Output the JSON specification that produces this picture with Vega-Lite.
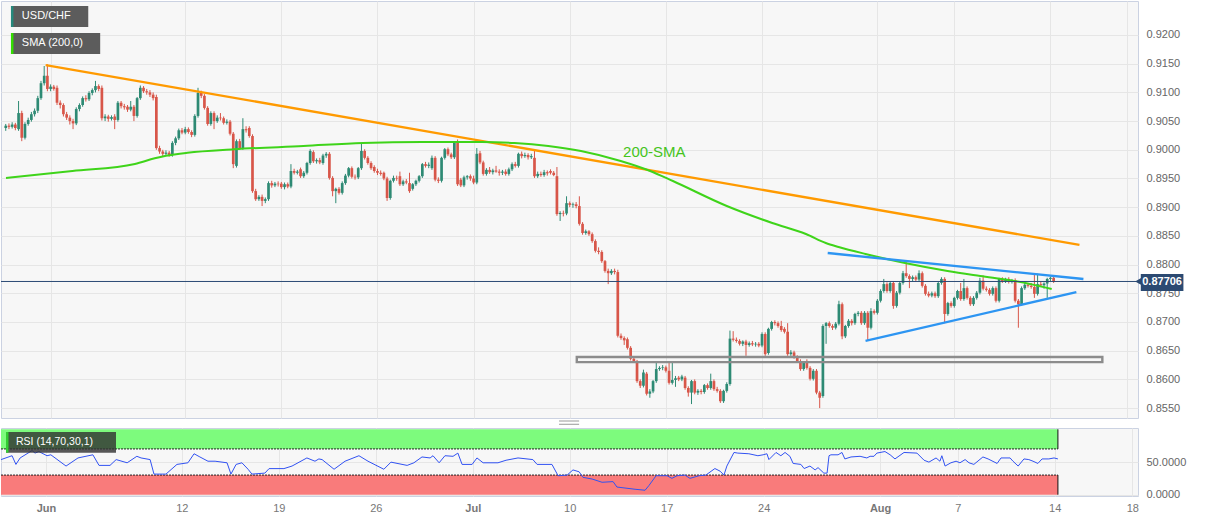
{
"$schema": "https://vega.github.io/schema/vega-lite/v6.json",
"padding": 0,
"background": "#ffffff",
"spacing": 10,
"bounds": "flush",
"config": {"view": {"stroke": "#cbd2e2", "fill": "#f7f7f7"}, "font": "Liberation Sans", "axis": {"gridColor": "#e6e6e6", "labelColor": "#666666", "labelFontSize": 11}},
"datasets": {
"candles": [
{"k":-14,"o":0.9038,"h":0.9045,"l":0.9033,"c":0.9042},
{"k":-13,"o":0.9042,"h":0.9046,"l":0.9036,"c":0.9040},
{"k":-12,"o":0.9040,"h":0.9048,"l":0.9037,"c":0.9044},
{"k":-11,"o":0.9044,"h":0.9047,"l":0.9034,"c":0.9038},
{"k":-10,"o":0.9036,"h":0.9085,"l":0.9033,"c":0.9064},
{"k":-9,"o":0.9064,"h":0.9068,"l":0.9015,"c":0.9021},
{"k":-8,"o":0.9021,"h":0.9048,"l":0.9018,"c":0.9045},
{"k":-7,"o":0.9045,"h":0.9056,"l":0.9042,"c":0.9052},
{"k":-6,"o":0.9052,"h":0.9066,"l":0.9049,"c":0.9062},
{"k":-5,"o":0.9062,"h":0.9072,"l":0.9058,"c":0.9068},
{"k":-4,"o":0.9068,"h":0.9094,"l":0.9064,"c":0.9090},
{"k":-3,"o":0.9090,"h":0.9120,"l":0.9087,"c":0.9116},
{"k":-2,"o":0.9116,"h":0.9146,"l":0.9112,"c":0.9129},
{"k":-1,"o":0.9129,"h":0.9149,"l":0.9102,"c":0.9106},
{"k":0,"o":0.9106,"h":0.9114,"l":0.9102,"c":0.9110},
{"k":1,"o":0.9110,"h":0.9113,"l":0.9103,"c":0.9106},
{"k":2,"o":0.9108,"h":0.9112,"l":0.9078,"c":0.9082},
{"k":3,"o":0.9082,"h":0.9086,"l":0.9072,"c":0.9078},
{"k":4,"o":0.9078,"h":0.9081,"l":0.9058,"c":0.9062},
{"k":5,"o":0.9062,"h":0.9066,"l":0.9052,"c":0.9056},
{"k":6,"o":0.9056,"h":0.9060,"l":0.9044,"c":0.9050},
{"k":7,"o":0.9050,"h":0.9054,"l":0.9036,"c":0.9046},
{"k":8,"o":0.9046,"h":0.9074,"l":0.9043,"c":0.9071},
{"k":9,"o":0.9071,"h":0.9081,"l":0.9067,"c":0.9078},
{"k":10,"o":0.9078,"h":0.9093,"l":0.9075,"c":0.9090},
{"k":11,"o":0.9090,"h":0.9095,"l":0.9084,"c":0.9088},
{"k":12,"o":0.9088,"h":0.9102,"l":0.9085,"c":0.9099},
{"k":13,"o":0.9099,"h":0.9107,"l":0.9095,"c":0.9104},
{"k":14,"o":0.9104,"h":0.9120,"l":0.9100,"c":0.9111},
{"k":15,"o":0.9111,"h":0.9114,"l":0.9102,"c":0.9106},
{"k":16,"o":0.9108,"h":0.9112,"l":0.9051,"c":0.9055},
{"k":17,"o":0.9055,"h":0.9062,"l":0.9050,"c":0.9058},
{"k":18,"o":0.9058,"h":0.9061,"l":0.9049,"c":0.9054},
{"k":19,"o":0.9054,"h":0.9060,"l":0.9051,"c":0.9057},
{"k":20,"o":0.9058,"h":0.9062,"l":0.9036,"c":0.9052},
{"k":21,"o":0.9052,"h":0.9085,"l":0.9049,"c":0.9082},
{"k":22,"o":0.9082,"h":0.9085,"l":0.9072,"c":0.9076},
{"k":23,"o":0.9076,"h":0.9080,"l":0.9070,"c":0.9074},
{"k":24,"o":0.9075,"h":0.9078,"l":0.9066,"c":0.9070},
{"k":25,"o":0.9070,"h":0.9085,"l":0.9067,"c":0.9075},
{"k":26,"o":0.9075,"h":0.9078,"l":0.9050,"c":0.9059},
{"k":27,"o":0.9059,"h":0.9092,"l":0.9056,"c":0.9090},
{"k":28,"o":0.9090,"h":0.9112,"l":0.9087,"c":0.9108},
{"k":29,"o":0.9108,"h":0.9111,"l":0.9099,"c":0.9102},
{"k":30,"o":0.9102,"h":0.9106,"l":0.9096,"c":0.9100},
{"k":31,"o":0.9100,"h":0.9104,"l":0.9092,"c":0.9096},
{"k":32,"o":0.9096,"h":0.9100,"l":0.9086,"c":0.9090},
{"k":33,"o":0.9092,"h":0.9096,"l":0.9000,"c":0.9003},
{"k":34,"o":0.9003,"h":0.9007,"l":0.8993,"c":0.8997},
{"k":35,"o":0.8997,"h":0.9000,"l":0.8989,"c":0.8993},
{"k":36,"o":0.8993,"h":0.8999,"l":0.8990,"c":0.8995},
{"k":37,"o":0.8995,"h":0.8998,"l":0.8988,"c":0.8991},
{"k":38,"o":0.8991,"h":0.9015,"l":0.8988,"c":0.9012},
{"k":39,"o":0.9012,"h":0.9023,"l":0.9008,"c":0.9020},
{"k":40,"o":0.9020,"h":0.9037,"l":0.9017,"c":0.9034},
{"k":41,"o":0.9034,"h":0.9038,"l":0.9027,"c":0.9030},
{"k":42,"o":0.9030,"h":0.9040,"l":0.9027,"c":0.9036},
{"k":43,"o":0.9036,"h":0.9039,"l":0.9028,"c":0.9031},
{"k":44,"o":0.9031,"h":0.9034,"l":0.9022,"c":0.9026},
{"k":45,"o":0.9026,"h":0.9062,"l":0.9023,"c":0.9059},
{"k":46,"o":0.9059,"h":0.9108,"l":0.9056,"c":0.9099},
{"k":47,"o":0.9099,"h":0.9103,"l":0.9090,"c":0.9094},
{"k":48,"o":0.9094,"h":0.9097,"l":0.9070,"c":0.9073},
{"k":49,"o":0.9073,"h":0.9076,"l":0.9042,"c":0.9045},
{"k":50,"o":0.9045,"h":0.9067,"l":0.9042,"c":0.9064},
{"k":51,"o":0.9064,"h":0.9067,"l":0.9036,"c":0.9050},
{"k":52,"o":0.9050,"h":0.9060,"l":0.9047,"c":0.9056},
{"k":53,"o":0.9056,"h":0.9064,"l":0.9051,"c":0.9055},
{"k":54,"o":0.9055,"h":0.9058,"l":0.9044,"c":0.9047},
{"k":55,"o":0.9047,"h":0.9053,"l":0.9044,"c":0.9049},
{"k":56,"o":0.9049,"h":0.9052,"l":0.9025,"c":0.9028},
{"k":57,"o":0.9028,"h":0.9031,"l":0.8968,"c":0.8975},
{"k":58,"o":0.8972,"h":0.9018,"l":0.8969,"c":0.9015},
{"k":59,"o":0.9015,"h":0.9019,"l":0.9000,"c":0.9003},
{"k":60,"o":0.9003,"h":0.9055,"l":0.9000,"c":0.9036},
{"k":61,"o":0.9036,"h":0.9041,"l":0.9030,"c":0.9034},
{"k":62,"o":0.9038,"h":0.9041,"l":0.9021,"c":0.9024},
{"k":63,"o":0.9024,"h":0.9027,"l":0.8925,"c":0.8928},
{"k":64,"o":0.8928,"h":0.8932,"l":0.8911,"c":0.8914},
{"k":65,"o":0.8914,"h":0.8921,"l":0.8911,"c":0.8918},
{"k":66,"o":0.8918,"h":0.8922,"l":0.8902,"c":0.8911},
{"k":67,"o":0.8911,"h":0.8917,"l":0.8907,"c":0.8914},
{"k":68,"o":0.8914,"h":0.8945,"l":0.8911,"c":0.8942},
{"k":69,"o":0.8942,"h":0.8946,"l":0.8934,"c":0.8938},
{"k":70,"o":0.8938,"h":0.8944,"l":0.8935,"c":0.8941},
{"k":71,"o":0.8941,"h":0.8945,"l":0.8936,"c":0.8940},
{"k":72,"o":0.8941,"h":0.8944,"l":0.8932,"c":0.8935},
{"k":73,"o":0.8935,"h":0.8943,"l":0.8931,"c":0.8940},
{"k":74,"o":0.8940,"h":0.8943,"l":0.8933,"c":0.8936},
{"k":75,"o":0.8936,"h":0.8975,"l":0.8933,"c":0.8963},
{"k":76,"o":0.8963,"h":0.8967,"l":0.8957,"c":0.8960},
{"k":77,"o":0.8960,"h":0.8965,"l":0.8957,"c":0.8962},
{"k":78,"o":0.8966,"h":0.8969,"l":0.8951,"c":0.8954},
{"k":79,"o":0.8954,"h":0.8963,"l":0.8951,"c":0.8960},
{"k":80,"o":0.8960,"h":0.8979,"l":0.8957,"c":0.8977},
{"k":81,"o":0.8977,"h":0.9001,"l":0.8974,"c":0.8998},
{"k":82,"o":0.8996,"h":0.8999,"l":0.8977,"c":0.8980},
{"k":83,"o":0.8980,"h":0.8985,"l":0.8976,"c":0.8982},
{"k":84,"o":0.8982,"h":0.8986,"l":0.8975,"c":0.8978},
{"k":85,"o":0.8977,"h":0.8993,"l":0.8974,"c":0.8990},
{"k":86,"o":0.8990,"h":0.8996,"l":0.8986,"c":0.8993},
{"k":87,"o":0.8993,"h":0.8996,"l":0.8948,"c":0.8951},
{"k":88,"o":0.8951,"h":0.8954,"l":0.8919,"c":0.8928},
{"k":89,"o":0.8928,"h":0.8934,"l":0.8907,"c":0.8932},
{"k":90,"o":0.8932,"h":0.8935,"l":0.8922,"c":0.8925},
{"k":91,"o":0.8925,"h":0.8945,"l":0.8922,"c":0.8942},
{"k":92,"o":0.8942,"h":0.8958,"l":0.8939,"c":0.8955},
{"k":93,"o":0.8955,"h":0.8970,"l":0.8952,"c":0.8968},
{"k":94,"o":0.8968,"h":0.8971,"l":0.8950,"c":0.8953},
{"k":95,"o":0.8953,"h":0.8957,"l":0.8948,"c":0.8952},
{"k":96,"o":0.8952,"h":0.8970,"l":0.8949,"c":0.8968},
{"k":97,"o":0.8968,"h":0.9012,"l":0.8965,"c":0.8998},
{"k":98,"o":0.8998,"h":0.9001,"l":0.8983,"c":0.8986},
{"k":99,"o":0.8986,"h":0.8989,"l":0.8974,"c":0.8977},
{"k":100,"o":0.8977,"h":0.8980,"l":0.8965,"c":0.8968},
{"k":101,"o":0.8970,"h":0.8973,"l":0.8960,"c":0.8963},
{"k":102,"o":0.8963,"h":0.8967,"l":0.8956,"c":0.8960},
{"k":103,"o":0.8960,"h":0.8964,"l":0.8955,"c":0.8958},
{"k":104,"o":0.8960,"h":0.8962,"l":0.8947,"c":0.8950},
{"k":105,"o":0.8950,"h":0.8953,"l":0.8911,"c":0.8916},
{"k":106,"o":0.8916,"h":0.8948,"l":0.8913,"c":0.8946},
{"k":107,"o":0.8946,"h":0.8955,"l":0.8943,"c":0.8951},
{"k":108,"o":0.8951,"h":0.8955,"l":0.8946,"c":0.8950},
{"k":109,"o":0.8954,"h":0.8962,"l":0.8937,"c":0.8940},
{"k":110,"o":0.8940,"h":0.8948,"l":0.8937,"c":0.8945},
{"k":111,"o":0.8945,"h":0.8949,"l":0.8940,"c":0.8943},
{"k":112,"o":0.8942,"h":0.8960,"l":0.8925,"c":0.8928},
{"k":113,"o":0.8932,"h":0.8942,"l":0.8929,"c":0.8940},
{"k":114,"o":0.8940,"h":0.8948,"l":0.8937,"c":0.8946},
{"k":115,"o":0.8946,"h":0.8956,"l":0.8943,"c":0.8954},
{"k":116,"o":0.8954,"h":0.8977,"l":0.8951,"c":0.8975},
{"k":117,"o":0.8975,"h":0.8979,"l":0.8969,"c":0.8972},
{"k":118,"o":0.8972,"h":0.8978,"l":0.8968,"c":0.8974},
{"k":119,"o":0.8968,"h":0.8990,"l":0.8965,"c":0.8986},
{"k":120,"o":0.8986,"h":0.8989,"l":0.8945,"c":0.8948},
{"k":121,"o":0.8948,"h":0.8952,"l":0.8942,"c":0.8946},
{"k":122,"o":0.8946,"h":0.8988,"l":0.8943,"c":0.8986},
{"k":123,"o":0.8986,"h":0.9003,"l":0.8983,"c":0.9001},
{"k":124,"o":0.9001,"h":0.9004,"l":0.8989,"c":0.8992},
{"k":125,"o":0.8992,"h":0.8995,"l":0.8984,"c":0.8987},
{"k":126,"o":0.8987,"h":0.9015,"l":0.8984,"c":0.9012},
{"k":127,"o":0.9015,"h":0.9018,"l":0.8937,"c":0.8940},
{"k":128,"o":0.8948,"h":0.8951,"l":0.8935,"c":0.8938},
{"k":129,"o":0.8938,"h":0.8955,"l":0.8935,"c":0.8952},
{"k":130,"o":0.8952,"h":0.8956,"l":0.8948,"c":0.8954},
{"k":131,"o":0.8954,"h":0.8957,"l":0.8946,"c":0.8950},
{"k":132,"o":0.8950,"h":0.8955,"l":0.8940,"c":0.8943},
{"k":133,"o":0.8943,"h":0.9003,"l":0.8940,"c":0.8993},
{"k":134,"o":0.8994,"h":0.8998,"l":0.8975,"c":0.8978},
{"k":135,"o":0.8978,"h":0.8981,"l":0.8955,"c":0.8958},
{"k":136,"o":0.8958,"h":0.8968,"l":0.8955,"c":0.8965},
{"k":137,"o":0.8965,"h":0.8970,"l":0.8958,"c":0.8961},
{"k":138,"o":0.8961,"h":0.8967,"l":0.8957,"c":0.8964},
{"k":139,"o":0.8964,"h":0.8972,"l":0.8960,"c":0.8962},
{"k":140,"o":0.8962,"h":0.8966,"l":0.8955,"c":0.8960},
{"k":141,"o":0.8960,"h":0.8965,"l":0.8956,"c":0.8962},
{"k":142,"o":0.8962,"h":0.8966,"l":0.8955,"c":0.8958},
{"k":143,"o":0.8958,"h":0.8969,"l":0.8955,"c":0.8966},
{"k":144,"o":0.8966,"h":0.8978,"l":0.8963,"c":0.8975},
{"k":145,"o":0.8975,"h":0.8979,"l":0.8969,"c":0.8972},
{"k":146,"o":0.8972,"h":0.8995,"l":0.8969,"c":0.8993},
{"k":147,"o":0.8993,"h":0.8997,"l":0.8985,"c":0.8989},
{"k":148,"o":0.8989,"h":0.8995,"l":0.8986,"c":0.8991},
{"k":149,"o":0.8991,"h":0.8994,"l":0.8983,"c":0.8987},
{"k":150,"o":0.8987,"h":0.8993,"l":0.8984,"c":0.8989},
{"k":151,"o":0.8986,"h":0.8998,"l":0.8951,"c":0.8954},
{"k":152,"o":0.8954,"h":0.8962,"l":0.8951,"c":0.8958},
{"k":153,"o":0.8958,"h":0.8962,"l":0.8953,"c":0.8956},
{"k":154,"o":0.8956,"h":0.8965,"l":0.8953,"c":0.8961},
{"k":155,"o":0.8961,"h":0.8964,"l":0.8955,"c":0.8959},
{"k":156,"o":0.8963,"h":0.8966,"l":0.8957,"c":0.8960},
{"k":157,"o":0.8960,"h":0.8963,"l":0.8954,"c":0.8956},
{"k":158,"o":0.8954,"h":0.8970,"l":0.8885,"c":0.8888},
{"k":159,"o":0.8888,"h":0.8893,"l":0.8876,"c":0.8890},
{"k":160,"o":0.8890,"h":0.8894,"l":0.8884,"c":0.8889},
{"k":161,"o":0.8889,"h":0.8919,"l":0.8886,"c":0.8907},
{"k":162,"o":0.8907,"h":0.8910,"l":0.8900,"c":0.8904},
{"k":163,"o":0.8904,"h":0.8908,"l":0.8899,"c":0.8905},
{"k":164,"o":0.8905,"h":0.8909,"l":0.8898,"c":0.8902},
{"k":165,"o":0.8902,"h":0.8919,"l":0.8868,"c":0.8871},
{"k":166,"o":0.8871,"h":0.8874,"l":0.8852,"c":0.8855},
{"k":167,"o":0.8855,"h":0.8861,"l":0.8852,"c":0.8858},
{"k":168,"o":0.8858,"h":0.8860,"l":0.8850,"c":0.8853},
{"k":169,"o":0.8853,"h":0.8856,"l":0.8838,"c":0.8841},
{"k":170,"o":0.8841,"h":0.8844,"l":0.8821,"c":0.8824},
{"k":171,"o":0.8824,"h":0.8830,"l":0.8818,"c":0.8822},
{"k":172,"o":0.8822,"h":0.8825,"l":0.8803,"c":0.8806},
{"k":173,"o":0.8806,"h":0.8808,"l":0.8786,"c":0.8789},
{"k":174,"o":0.8789,"h":0.8793,"l":0.8766,"c":0.8785},
{"k":175,"o":0.8785,"h":0.8792,"l":0.8782,"c":0.8789},
{"k":176,"o":0.8789,"h":0.8793,"l":0.8783,"c":0.8787},
{"k":177,"o":0.8787,"h":0.8791,"l":0.8673,"c":0.8676},
{"k":178,"o":0.8676,"h":0.8680,"l":0.8669,"c":0.8672},
{"k":179,"o":0.8672,"h":0.8675,"l":0.8660,"c":0.8668},
{"k":180,"o":0.8670,"h":0.8673,"l":0.8652,"c":0.8655},
{"k":181,"o":0.8655,"h":0.8658,"l":0.8633,"c":0.8636},
{"k":182,"o":0.8636,"h":0.8639,"l":0.8629,"c":0.8632},
{"k":183,"o":0.8631,"h":0.8634,"l":0.8594,"c":0.8597},
{"k":184,"o":0.8597,"h":0.8600,"l":0.8585,"c":0.8589},
{"k":185,"o":0.8589,"h":0.8617,"l":0.8586,"c":0.8612},
{"k":186,"o":0.8610,"h":0.8613,"l":0.8572,"c":0.8575},
{"k":187,"o":0.8575,"h":0.8583,"l":0.8568,"c":0.8579},
{"k":188,"o":0.8579,"h":0.8599,"l":0.8576,"c":0.8597},
{"k":189,"o":0.8597,"h":0.8629,"l":0.8594,"c":0.8618},
{"k":190,"o":0.8618,"h":0.8623,"l":0.8615,"c":0.8620},
{"k":191,"o":0.8620,"h":0.8625,"l":0.8616,"c":0.8621},
{"k":192,"o":0.8621,"h":0.8624,"l":0.8612,"c":0.8615},
{"k":193,"o":0.8615,"h":0.8629,"l":0.8591,"c":0.8594},
{"k":194,"o":0.8594,"h":0.8629,"l":0.8591,"c":0.8599},
{"k":195,"o":0.8599,"h":0.8606,"l":0.8587,"c":0.8602},
{"k":196,"o":0.8603,"h":0.8606,"l":0.8597,"c":0.8600},
{"k":197,"o":0.8600,"h":0.8608,"l":0.8597,"c":0.8605},
{"k":198,"o":0.8603,"h":0.8606,"l":0.8582,"c":0.8585},
{"k":199,"o":0.8585,"h":0.8588,"l":0.8570,"c":0.8577},
{"k":200,"o":0.8577,"h":0.8599,"l":0.8557,"c":0.8597},
{"k":201,"o":0.8597,"h":0.8600,"l":0.8574,"c":0.8577},
{"k":202,"o":0.8577,"h":0.8583,"l":0.8573,"c":0.8580},
{"k":203,"o":0.8580,"h":0.8583,"l":0.8574,"c":0.8578},
{"k":204,"o":0.8578,"h":0.8592,"l":0.8575,"c":0.8590},
{"k":205,"o":0.8590,"h":0.8593,"l":0.8582,"c":0.8585},
{"k":206,"o":0.8585,"h":0.8610,"l":0.8582,"c":0.8597},
{"k":207,"o":0.8597,"h":0.8600,"l":0.8580,"c":0.8583},
{"k":208,"o":0.8583,"h":0.8587,"l":0.8577,"c":0.8580},
{"k":209,"o":0.8580,"h":0.8583,"l":0.8559,"c":0.8562},
{"k":210,"o":0.8562,"h":0.8582,"l":0.8559,"c":0.8580},
{"k":211,"o":0.8580,"h":0.8595,"l":0.8577,"c":0.8592},
{"k":212,"o":0.8592,"h":0.8685,"l":0.8589,"c":0.8671},
{"k":213,"o":0.8671,"h":0.8684,"l":0.8666,"c":0.8669},
{"k":214,"o":0.8669,"h":0.8673,"l":0.8664,"c":0.8667},
{"k":215,"o":0.8667,"h":0.8670,"l":0.8659,"c":0.8662},
{"k":216,"o":0.8662,"h":0.8668,"l":0.8658,"c":0.8666},
{"k":217,"o":0.8666,"h":0.8669,"l":0.8641,"c":0.8660},
{"k":218,"o":0.8660,"h":0.8666,"l":0.8657,"c":0.8663},
{"k":219,"o":0.8663,"h":0.8667,"l":0.8658,"c":0.8661},
{"k":220,"o":0.8661,"h":0.8665,"l":0.8657,"c":0.8662},
{"k":221,"o":0.8662,"h":0.8665,"l":0.8656,"c":0.8659},
{"k":222,"o":0.8659,"h":0.8682,"l":0.8656,"c":0.8679},
{"k":223,"o":0.8679,"h":0.8682,"l":0.8641,"c":0.8644},
{"k":224,"o":0.8646,"h":0.8690,"l":0.8643,"c":0.8688},
{"k":225,"o":0.8688,"h":0.8702,"l":0.8685,"c":0.8700},
{"k":226,"o":0.8700,"h":0.8703,"l":0.8694,"c":0.8698},
{"k":227,"o":0.8698,"h":0.8701,"l":0.8690,"c":0.8693},
{"k":228,"o":0.8693,"h":0.8702,"l":0.8683,"c":0.8686},
{"k":229,"o":0.8688,"h":0.8691,"l":0.8680,"c":0.8683},
{"k":230,"o":0.8683,"h":0.8698,"l":0.8641,"c":0.8644},
{"k":231,"o":0.8644,"h":0.8651,"l":0.8641,"c":0.8647},
{"k":232,"o":0.8647,"h":0.8650,"l":0.8636,"c":0.8639},
{"k":233,"o":0.8639,"h":0.8642,"l":0.8629,"c":0.8632},
{"k":234,"o":0.8632,"h":0.8635,"l":0.8615,"c":0.8618},
{"k":235,"o":0.8618,"h":0.8632,"l":0.8615,"c":0.8629},
{"k":236,"o":0.8629,"h":0.8635,"l":0.8617,"c":0.8620},
{"k":237,"o":0.8620,"h":0.8623,"l":0.8598,"c":0.8601},
{"k":238,"o":0.8601,"h":0.8618,"l":0.8598,"c":0.8615},
{"k":239,"o":0.8615,"h":0.8618,"l":0.8574,"c":0.8577},
{"k":240,"o":0.8577,"h":0.8580,"l":0.8550,"c":0.8568},
{"k":241,"o":0.8571,"h":0.8696,"l":0.8568,"c":0.8693},
{"k":242,"o":0.8693,"h":0.8700,"l":0.8662,"c":0.8698},
{"k":243,"o":0.8698,"h":0.8701,"l":0.8690,"c":0.8693},
{"k":244,"o":0.8693,"h":0.8696,"l":0.8686,"c":0.8690},
{"k":245,"o":0.8690,"h":0.8700,"l":0.8687,"c":0.8697},
{"k":246,"o":0.8697,"h":0.8737,"l":0.8694,"c":0.8731},
{"k":247,"o":0.8731,"h":0.8734,"l":0.8670,"c":0.8675},
{"k":248,"o":0.8675,"h":0.8695,"l":0.8672,"c":0.8693},
{"k":249,"o":0.8693,"h":0.8705,"l":0.8690,"c":0.8702},
{"k":250,"o":0.8702,"h":0.8705,"l":0.8694,"c":0.8698},
{"k":251,"o":0.8698,"h":0.8716,"l":0.8695,"c":0.8714},
{"k":252,"o":0.8714,"h":0.8719,"l":0.8710,"c":0.8716},
{"k":253,"o":0.8716,"h":0.8719,"l":0.8695,"c":0.8698},
{"k":254,"o":0.8698,"h":0.8719,"l":0.8695,"c":0.8716},
{"k":255,"o":0.8716,"h":0.8719,"l":0.8667,"c":0.8690},
{"k":256,"o":0.8690,"h":0.8724,"l":0.8687,"c":0.8719},
{"k":257,"o":0.8719,"h":0.8722,"l":0.8713,"c":0.8716},
{"k":258,"o":0.8716,"h":0.8740,"l":0.8713,"c":0.8737},
{"k":259,"o":0.8737,"h":0.8757,"l":0.8734,"c":0.8754},
{"k":260,"o":0.8754,"h":0.8775,"l":0.8751,"c":0.8766},
{"k":261,"o":0.8766,"h":0.8769,"l":0.8751,"c":0.8754},
{"k":262,"o":0.8754,"h":0.8771,"l":0.8751,"c":0.8768},
{"k":263,"o":0.8768,"h":0.8771,"l":0.8723,"c":0.8728},
{"k":264,"o":0.8728,"h":0.8754,"l":0.8725,"c":0.8751},
{"k":265,"o":0.8751,"h":0.8771,"l":0.8748,"c":0.8768},
{"k":266,"o":0.8768,"h":0.8789,"l":0.8765,"c":0.8785},
{"k":267,"o":0.8785,"h":0.8806,"l":0.8777,"c":0.8780},
{"k":268,"o":0.8780,"h":0.8783,"l":0.8759,"c":0.8775},
{"k":269,"o":0.8775,"h":0.8781,"l":0.8771,"c":0.8778},
{"k":270,"o":0.8778,"h":0.8781,"l":0.8771,"c":0.8774},
{"k":271,"o":0.8774,"h":0.8790,"l":0.8771,"c":0.8785},
{"k":272,"o":0.8785,"h":0.8788,"l":0.8760,"c":0.8763},
{"k":273,"o":0.8763,"h":0.8766,"l":0.8746,"c":0.8749},
{"k":274,"o":0.8749,"h":0.8753,"l":0.8743,"c":0.8746},
{"k":275,"o":0.8746,"h":0.8753,"l":0.8743,"c":0.8750},
{"k":276,"o":0.8750,"h":0.8753,"l":0.8742,"c":0.8745},
{"k":277,"o":0.8745,"h":0.8770,"l":0.8742,"c":0.8768},
{"k":278,"o":0.8768,"h":0.8778,"l":0.8765,"c":0.8775},
{"k":279,"o":0.8775,"h":0.8778,"l":0.8698,"c":0.8714},
{"k":280,"o":0.8714,"h":0.8735,"l":0.8711,"c":0.8733},
{"k":281,"o":0.8733,"h":0.8736,"l":0.8725,"c":0.8728},
{"k":282,"o":0.8728,"h":0.8744,"l":0.8725,"c":0.8742},
{"k":283,"o":0.8742,"h":0.8756,"l":0.8739,"c":0.8754},
{"k":284,"o":0.8754,"h":0.8768,"l":0.8737,"c":0.8740},
{"k":285,"o":0.8740,"h":0.8775,"l":0.8737,"c":0.8759},
{"k":286,"o":0.8759,"h":0.8762,"l":0.8739,"c":0.8742},
{"k":287,"o":0.8742,"h":0.8745,"l":0.8728,"c":0.8731},
{"k":288,"o":0.8731,"h":0.8745,"l":0.8728,"c":0.8742},
{"k":289,"o":0.8742,"h":0.8754,"l":0.8739,"c":0.8751},
{"k":290,"o":0.8751,"h":0.8777,"l":0.8748,"c":0.8772},
{"k":291,"o":0.8772,"h":0.8781,"l":0.8755,"c":0.8758},
{"k":292,"o":0.8758,"h":0.8762,"l":0.8753,"c":0.8756},
{"k":293,"o":0.8756,"h":0.8759,"l":0.8746,"c":0.8749},
{"k":294,"o":0.8749,"h":0.8762,"l":0.8746,"c":0.8759},
{"k":295,"o":0.8759,"h":0.8762,"l":0.8734,"c":0.8737},
{"k":296,"o":0.8737,"h":0.8777,"l":0.8734,"c":0.8775},
{"k":297,"o":0.8775,"h":0.8778,"l":0.8768,"c":0.8771},
{"k":298,"o":0.8771,"h":0.8777,"l":0.8768,"c":0.8775},
{"k":299,"o":0.8775,"h":0.8778,"l":0.8767,"c":0.8770},
{"k":300,"o":0.8770,"h":0.8775,"l":0.8767,"c":0.8773},
{"k":301,"o":0.8773,"h":0.8776,"l":0.8734,"c":0.8737},
{"k":302,"o":0.8737,"h":0.8740,"l":0.8690,"c":0.8731},
{"k":303,"o":0.8731,"h":0.8762,"l":0.8728,"c":0.8759},
{"k":304,"o":0.8759,"h":0.8770,"l":0.8756,"c":0.8765},
{"k":305,"o":0.8765,"h":0.8768,"l":0.8760,"c":0.8763},
{"k":306,"o":0.8763,"h":0.8768,"l":0.8758,"c":0.8761},
{"k":307,"o":0.8761,"h":0.8782,"l":0.8742,"c":0.8749},
{"k":308,"o":0.8749,"h":0.8784,"l":0.8746,"c":0.8766},
{"k":309,"o":0.8766,"h":0.8770,"l":0.8761,"c":0.8764},
{"k":310,"o":0.8764,"h":0.8769,"l":0.8758,"c":0.8767},
{"k":311,"o":0.8767,"h":0.8777,"l":0.8742,"c":0.8775},
{"k":312,"o":0.8775,"h":0.8779,"l":0.8771,"c":0.8777},
{"k":313,"o":0.8777,"h":0.8780,"l":0.8768,"c":0.87706}
],
"sma": [
{"k":-13.92,"p":0.89509},{"k":6.8,"p":0.89631},{"k":26.3,"p":0.89753},{"k":32.5,"p":0.89852},{"k":36,"p":0.89895},{"k":42.7,"p":0.89949},{"k":57.2,"p":0.90009},{"k":78.9,"p":0.90066},{"k":97.4,"p":0.90118},{"k":116,"p":0.90136},{"k":134.5,"p":0.90136},{"k":144.8,"p":0.90118},{"k":155.3,"p":0.90066},{"k":165.5,"p":0.89979},{"k":177.9,"p":0.89805},{"k":187.1,"p":0.89631},{"k":194.2,"p":0.89456},{"k":211,"p":0.89021},{"k":225.2,"p":0.88725},{"k":235.7,"p":0.88533},{"k":241.9,"p":0.88376},{"k":245.9,"p":0.88307},{"k":254.3,"p":0.88185},{"k":266.6,"p":0.88028},{"k":279.9,"p":0.87889},{"k":290.1,"p":0.87801},{"k":300.7,"p":0.87714},{"k":305.6,"p":0.87662},{"k":312.4,"p":0.87575}
],
"rsi": [
{"k":-13.9,"v":53.7},{"k":-10.5,"v":59.6},{"k":-9.3,"v":46.3},{"k":-8.0,"v":56.2},{"k":-4.3,"v":67.5},{"k":-3.4,"v":63.6},{"k":-2.2,"v":66},{"k":0.3,"v":59.6},{"k":1.5,"v":61},{"k":6.2,"v":43.8},{"k":9.9,"v":56.2},{"k":14.5,"v":61},{"k":16.4,"v":44.8},{"k":19.8,"v":44.8},{"k":21.7,"v":53.7},{"k":25.1,"v":48.8},{"k":28.1,"v":58.7},{"k":29.4,"v":56.2},{"k":32.2,"v":53.7},{"k":33.4,"v":31.5},{"k":37.1,"v":31.5},{"k":40.5,"v":46.3},{"k":43.9,"v":48.8},{"k":45.8,"v":62.6},{"k":47.6,"v":57.7},{"k":50.1,"v":51.2},{"k":52.3,"v":51.2},{"k":56.0,"v":48.8},{"k":57.2,"v":31.5},{"k":58.8,"v":46.3},{"k":60.6,"v":48.8},{"k":62.5,"v":38.9},{"k":63.7,"v":31.5},{"k":67.7,"v":33},{"k":69.0,"v":39.9},{"k":73.6,"v":39.9},{"k":76.1,"v":43.8},{"k":80.7,"v":56.2},{"k":83.2,"v":51.2},{"k":84.4,"v":54.7},{"k":85.4,"v":53.7},{"k":89.1,"v":38.9},{"k":92.5,"v":51.2},{"k":96.8,"v":59.6},{"k":99.6,"v":51.2},{"k":104.5,"v":38.9},{"k":106.7,"v":49.8},{"k":111.7,"v":44.8},{"k":113.8,"v":48.8},{"k":116.3,"v":57.7},{"k":118.8,"v":56.2},{"k":119.7,"v":59.6},{"k":121.6,"v":48.8},{"k":123.4,"v":59.6},{"k":125.9,"v":58.7},{"k":127.4,"v":63.6},{"k":128.7,"v":46.3},{"k":131.8,"v":46.3},{"k":133.3,"v":56.2},{"k":135.2,"v":48.8},{"k":139.8,"v":48.8},{"k":142.3,"v":52.7},{"k":146.0,"v":56.2},{"k":150.6,"v":53.7},{"k":151.9,"v":46.3},{"k":156.5,"v":46.3},{"k":158.4,"v":29},{"k":161.2,"v":30},{"k":163.0,"v":37.9},{"k":164.9,"v":35},{"k":166.1,"v":26.5},{"k":168.9,"v":24},{"k":172.0,"v":19},{"k":175.4,"v":20},{"k":176.6,"v":11.7},{"k":182.2,"v":8.3},{"k":185.3,"v":6.8},{"k":186.5,"v":14},{"k":188.7,"v":29},{"k":192.1,"v":29},{"k":193.6,"v":25},{"k":195.2,"v":29},{"k":197.6,"v":30},{"k":199.2,"v":25},{"k":202.0,"v":29},{"k":204.1,"v":30},{"k":206.9,"v":40},{"k":208.5,"v":36},{"k":209.7,"v":30},{"k":210.6,"v":43.8},{"k":212.8,"v":64.6},{"k":214.0,"v":63.6},{"k":217.4,"v":62.6},{"k":220.2,"v":59.6},{"k":221.8,"v":61},{"k":223.0,"v":62.6},{"k":223.6,"v":53.7},{"k":225.8,"v":64.6},{"k":227.3,"v":59.6},{"k":228.6,"v":64.6},{"k":230.1,"v":58.7},{"k":231.1,"v":47.8},{"k":233.5,"v":46.3},{"k":234.5,"v":40},{"k":236.3,"v":43.8},{"k":237.9,"v":37.9},{"k":238.8,"v":41.4},{"k":240.6,"v":33},{"k":241.6,"v":33},{"k":242.2,"v":59.6},{"k":242.8,"v":61},{"k":245.0,"v":61},{"k":246.2,"v":64.6},{"k":247.1,"v":54.7},{"k":249.0,"v":57.7},{"k":251.8,"v":58.7},{"k":253.9,"v":56.2},{"k":254.9,"v":58.7},{"k":256.1,"v":58.7},{"k":257.0,"v":63.6},{"k":259.5,"v":66},{"k":261.1,"v":61},{"k":262.6,"v":54.7},{"k":265.4,"v":64.6},{"k":269.4,"v":63.6},{"k":271.6,"v":52.7},{"k":273.1,"v":49.8},{"k":275.3,"v":56.2},{"k":276.5,"v":51.2},{"k":277.1,"v":59.6},{"k":278.1,"v":43.8},{"k":279.9,"v":48.8},{"k":281.5,"v":51.2},{"k":282.7,"v":48.8},{"k":284.3,"v":53.7},{"k":285.5,"v":48.8},{"k":287.0,"v":46.3},{"k":289.8,"v":57.7},{"k":291.4,"v":54.7},{"k":294.2,"v":47.8},{"k":295.4,"v":56.2},{"k":298.2,"v":56.2},{"k":299.1,"v":51.2},{"k":300.7,"v":43.8},{"k":302.5,"v":54.7},{"k":304.0,"v":53.7},{"k":305.3,"v":51.2},{"k":306.8,"v":47.8},{"k":308.1,"v":54.7},{"k":310.2,"v":54.7},{"k":311.8,"v":56.2},{"k":313.0,"v":54.7}
]
},
"vconcat": [
{
"width": 1137, "height": 417,
"layer": [
{"data": {"name": "candles"},
 "mark": {"type": "rule", "strokeWidth": 1, "clip": true},
 "encoding": {
  "x": {"field": "k", "type": "quantitative", "scale": {"domain": [-13.92, 337.77], "nice": false, "zero": false},
        "axis": {"values": [0,42,72,102,132,162,192,222,258,282,312,336], "tickCount": 40, "labels": false, "ticks": false, "domain": false, "grid": true, "title": null, "maxExtent": 0, "minExtent": 0}},
  "y": {"field": "l", "type": "quantitative", "scale": {"domain": [0.853274, 0.925923], "nice": false, "zero": false},
        "axis": {"orient": "right", "values": [0.855,0.86,0.865,0.87,0.875,0.88,0.885,0.89,0.895,0.9,0.905,0.91,0.915,0.92], "tickCount": 40, "format": ".4f", "grid": true, "ticks": false, "domain": false, "labelPadding": 8, "title": null, "labelOverlap": false}},
  "y2": {"field": "h"},
  "color": {"condition": {"test": "datum.c >= datum.o", "value": "#2e8a74"}, "value": "#d85649"}}},
{"data": {"name": "candles"},
 "mark": {"type": "bar", "orient": "vertical", "size": 2.7, "clip": true},
 "encoding": {
  "x": {"field": "k", "type": "quantitative"},
  "y": {"field": "o", "type": "quantitative"},
  "y2": {"field": "c"},
  "color": {"condition": {"test": "datum.c >= datum.o", "value": "#2e8a74"}, "value": "#d85649"}}},
{"data": {"values": [{"k1": 164.2, "k2": 328.2, "p1": 0.8630, "p2": 0.8639}]},
 "mark": {"type": "rect", "fill": "#ffffff", "fillOpacity": 0, "stroke": "#8c8c8c", "strokeWidth": 2.4},
 "encoding": {
  "x": {"field": "k1", "type": "quantitative"},
  "x2": {"field": "k2"},
  "y": {"field": "p1", "type": "quantitative"},
  "y2": {"field": "p2"}}},
{"data": {"values": [{"k": -1.55, "p": 0.91477}, {"k": 321.06, "p": 0.88342}]},
 "mark": {"type": "line", "color": "#ff9a00", "strokeWidth": 2.3},
 "encoding": {
  "x": {"field": "k", "type": "quantitative"},
  "y": {"field": "p", "type": "quantitative"}}},
{"data": {"name": "sma"},
 "mark": {"type": "line", "color": "#3fd41a", "strokeWidth": 2, "interpolate": "monotone", "clip": true},
 "encoding": {
  "x": {"field": "k", "type": "quantitative"},
  "y": {"field": "p", "type": "quantitative"}}},
{"data": {"values": [{"g": "upper", "k": 242.5, "p": 0.88202}, {"g": "upper", "k": 322.3, "p": 0.87749}, {"g": "lower", "k": 254.3, "p": 0.86669}, {"g": "lower", "k": 320.1, "p": 0.87522}]},
 "mark": {"type": "line", "color": "#2d95f2", "strokeWidth": 2.3},
 "encoding": {
  "x": {"field": "k", "type": "quantitative"},
  "y": {"field": "p", "type": "quantitative"},
  "detail": {"field": "g"}}},
{"data": {"values": [{}]},
 "mark": {"type": "rule", "color": "#2b4a75", "strokeWidth": 1},
 "encoding": {
  "y": {"datum": 0.87706, "type": "quantitative"}}},
{"data": {"values": [{}]},
 "mark": {"type": "text", "text": "200-SMA", "color": "#45c41c", "fontSize": 15, "align": "center", "baseline": "middle"},
 "encoding": {
  "x": {"datum": 188.4, "type": "quantitative"},
  "y": {"datum": 0.89962, "type": "quantitative"}}},
{"data": {"values": [{}]},
 "mark": {"type": "rect", "color": "#5c5c5c"},
 "encoding": {
  "x": {"datum": -12.37, "type": "quantitative"},
  "x2": {"datum": 11.75},
  "y": {"datum": 0.925052, "type": "quantitative"},
  "y2": {"datum": 0.921394}}},
{"data": {"values": [{}]},
 "mark": {"type": "rect", "color": "#26897c"},
 "encoding": {
  "x": {"datum": -12.37, "type": "quantitative"},
  "x2": {"datum": -11.6},
  "y": {"datum": 0.925052, "type": "quantitative"},
  "y2": {"datum": 0.921394}}},
{"data": {"values": [{}]},
 "mark": {"type": "text", "text": "USD/CHF", "color": "#ffffff", "fontSize": 11, "align": "left", "baseline": "middle"},
 "encoding": {
  "x": {"datum": -8.97, "type": "quantitative"},
  "y": {"datum": 0.923223, "type": "quantitative"}}},
{"data": {"values": [{}]},
 "mark": {"type": "rect", "color": "#5c5c5c"},
 "encoding": {
  "x": {"datum": -12.37, "type": "quantitative"},
  "x2": {"datum": 15.47},
  "y": {"datum": 0.920348, "type": "quantitative"},
  "y2": {"datum": 0.91669}}},
{"data": {"values": [{}]},
 "mark": {"type": "rect", "color": "#33dd00"},
 "encoding": {
  "x": {"datum": -12.37, "type": "quantitative"},
  "x2": {"datum": -11.6},
  "y": {"datum": 0.920348, "type": "quantitative"},
  "y2": {"datum": 0.91669}}},
{"data": {"values": [{}]},
 "mark": {"type": "text", "text": "SMA (200,0)", "color": "#ffffff", "fontSize": 11, "align": "left", "baseline": "middle"},
 "encoding": {
  "x": {"datum": -8.97, "type": "quantitative"},
  "y": {"datum": 0.918519, "type": "quantitative"}}},
{"data": {"values": [{}]},
 "mark": {"type": "rect", "color": "#2c4a72", "clip": false},
 "encoding": {
  "x": {"datum": 340.2, "type": "quantitative"},
  "x2": {"datum": 353.5},
  "y": {"datum": 0.87837, "type": "quantitative"},
  "y2": {"datum": 0.87541}}},
{"data": {"values": [{}]},
 "mark": {"type": "point", "shape": "triangle-left", "size": 60, "filled": true, "color": "#2c4a72", "opacity": 1},
 "encoding": {
  "x": {"datum": 339.5, "type": "quantitative"},
  "y": {"datum": 0.87706, "type": "quantitative"}}},
{"data": {"values": [{}]},
 "mark": {"type": "text", "text": "0.87706", "color": "#ffffff", "fontSize": 11, "fontWeight": "bold", "align": "center", "baseline": "middle"},
 "encoding": {
  "x": {"datum": 346.85, "type": "quantitative"},
  "y": {"datum": 0.87689, "type": "quantitative"}}}
]
},
{
"width": 1137, "height": 68,
"layer": [
{"data": {"name": "rsi"},
 "mark": {"type": "line", "color": "#3152f2", "strokeWidth": 1, "clip": true, "opacity": 0},
 "encoding": {
  "x": {"field": "k", "type": "quantitative", "scale": {"domain": [-13.92, 337.77], "nice": false, "zero": false},
        "axis": {"values": [0,42,72,102,132,162,192,222,258,282,312,336], "tickCount": 40, "labelExpr": "datum.value == 0 ? 'Jun' : datum.value == 42 ? '12' : datum.value == 72 ? '19' : datum.value == 102 ? '26' : datum.value == 132 ? 'Jul' : datum.value == 162 ? '10' : datum.value == 192 ? '17' : datum.value == 222 ? '24' : datum.value == 258 ? 'Aug' : datum.value == 282 ? '7' : datum.value == 312 ? '14' : '18'", "ticks": false, "domain": false, "grid": true, "title": null, "labelPadding": 6, "labelFlush": false, "labelOverlap": false, "labelColor": "#777777",
                 "labelFontWeight": {"condition": {"test": "datum.value == 0 || datum.value == 132 || datum.value == 258", "value": "bold"}, "value": "normal"}}},
  "y": {"field": "v", "type": "quantitative", "scale": {"domain": [-2, 102], "nice": false, "zero": false},
        "axis": {"orient": "right", "values": [0, 50], "tickCount": 10, "format": ".4f", "grid": true, "ticks": false, "domain": false, "labelPadding": 8, "title": null, "labelOverlap": false}}}},
{"data": {"values": [{}]},
 "mark": {"type": "rect", "color": "#7dfb7d", "clip": true},
 "encoding": {
  "x": {"datum": -13.92, "type": "quantitative"},
  "x2": {"datum": 313},
  "y": {"datum": 70, "type": "quantitative"},
  "y2": {"datum": 100}}},
{"data": {"values": [{}]},
 "mark": {"type": "rect", "color": "#f97b7b", "clip": true},
 "encoding": {
  "x": {"datum": -13.92, "type": "quantitative"},
  "x2": {"datum": 313},
  "y": {"datum": 0, "type": "quantitative"},
  "y2": {"datum": 30}}},
{"data": {"values": [{}]},
 "mark": {"type": "rule", "color": "#222222", "strokeWidth": 1, "strokeDash": [2, 1]},
 "encoding": {
  "x": {"datum": -13.92, "type": "quantitative"},
  "x2": {"datum": 313},
  "y": {"datum": 70, "type": "quantitative"}}},
{"data": {"values": [{}]},
 "mark": {"type": "rule", "color": "#222222", "strokeWidth": 1, "strokeDash": [2, 1]},
 "encoding": {
  "x": {"datum": -13.92, "type": "quantitative"},
  "x2": {"datum": 313},
  "y": {"datum": 30, "type": "quantitative"}}},
{"data": {"values": [{}]},
 "mark": {"type": "rule", "color": "#111111", "strokeWidth": 1},
 "encoding": {
  "x": {"datum": 313, "type": "quantitative"},
  "y": {"datum": 70, "type": "quantitative"},
  "y2": {"datum": 100}}},
{"data": {"values": [{}]},
 "mark": {"type": "rule", "color": "#111111", "strokeWidth": 1},
 "encoding": {
  "x": {"datum": 313, "type": "quantitative"},
  "y": {"datum": 0, "type": "quantitative"},
  "y2": {"datum": 30}}},
{"data": {"name": "rsi"},
 "mark": {"type": "line", "color": "#3152f2", "strokeWidth": 1, "clip": true},
 "encoding": {
  "x": {"field": "k", "type": "quantitative"},
  "y": {"field": "v", "type": "quantitative"}}},
{"data": {"values": [{}]},
 "mark": {"type": "rect", "color": "#333333", "opacity": 0.82},
 "encoding": {
  "x": {"datum": -12.37, "type": "quantitative"},
  "x2": {"datum": 21.65},
  "y": {"datum": 95.9, "type": "quantitative"},
  "y2": {"datum": 64.2}}},
{"data": {"values": [{}]},
 "mark": {"type": "rect", "color": "#33cc33"},
 "encoding": {
  "x": {"datum": -12.37, "type": "quantitative"},
  "x2": {"datum": -11.6},
  "y": {"datum": 95.9, "type": "quantitative"},
  "y2": {"datum": 64.2}}},
{"data": {"values": [{}]},
 "mark": {"type": "text", "text": "RSI (14,70,30,1)", "color": "#ffffff", "fontSize": 10.5, "align": "left", "baseline": "middle"},
 "encoding": {
  "x": {"datum": -9.28, "type": "quantitative"},
  "y": {"datum": 80.1, "type": "quantitative"}}},
{"data": {"values": [{}]},
 "mark": {"type": "rule", "color": "#999999", "strokeWidth": 1, "clip": false},
 "encoding": {
  "x": {"datum": 158.7, "type": "quantitative"},
  "x2": {"datum": 164.9},
  "y": {"datum": 112.7, "type": "quantitative"}}},
{"data": {"values": [{}]},
 "mark": {"type": "rule", "color": "#999999", "strokeWidth": 1, "clip": false},
 "encoding": {
  "x": {"datum": 158.7, "type": "quantitative"},
  "x2": {"datum": 164.9},
  "y": {"datum": 107.7, "type": "quantitative"}}}
]
}
]
}
